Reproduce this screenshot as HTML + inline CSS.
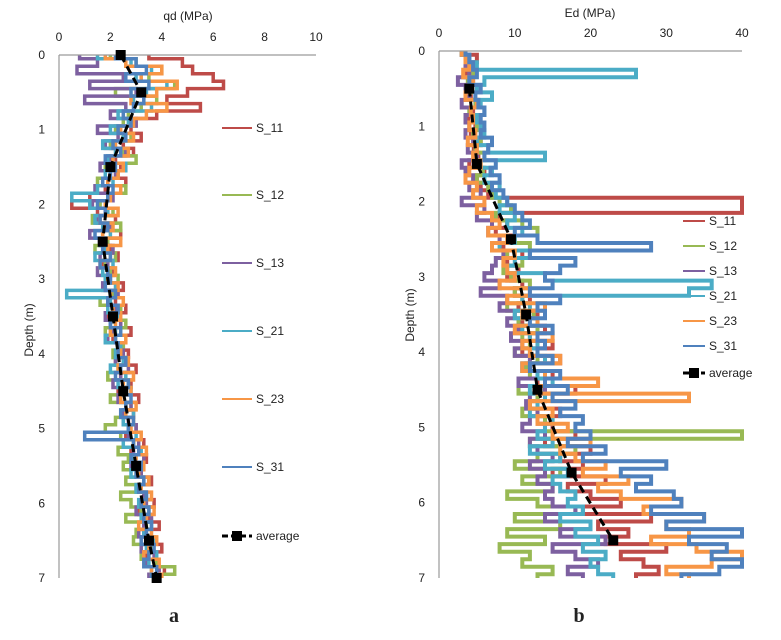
<!DOCTYPE html>
<html><head><meta charset="utf-8">
<style>
body{margin:0;background:#fff;}
svg text{font-family:"Liberation Sans",sans-serif;fill:#222;}
</style></head>
<body>
<svg id="fig" width="781" height="635" xmlns="http://www.w3.org/2000/svg"></svg>
<script>
const seriesNames = ["S_11","S_12","S_13","S_21","S_23","S_31"];
const seriesColors = ["#be4b48","#98b954","#7d60a0","#4bacc6","#f79646","#4f81bd"];
const depthStep = 0.1;
const depthTicks = [0,1,2,3,4,5,6,7];
const qdTicks = [0,2,4,6,8,10];
const edTicks = [0,10,20,30,40];

const qdS11=[3.5,4.8,5.2,6.0,6.4,5.0,4.2,5.5,3.8,3.0,2.8,3.2,2.5,2.9,2.2,2.4,2.0,2.6,1.8,1.2,0.5,1.5,2.2,1.8,2.4,1.6,2.0,2.3,1.7,2.1,1.8,2.5,2.0,2.2,2.6,1.9,2.4,2.8,2.1,2.5,2.7,2.2,3.0,2.4,2.8,2.3,3.1,2.6,2.9,2.5,3.0,2.6,3.3,2.8,3.4,2.9,3.2,3.6,3.0,3.4,3.7,3.1,3.5,3.9,3.3,3.6,4.0,3.4,3.8,4.1,3.6];
const qdS12=[2.0,3.0,4.0,3.5,4.5,2.2,3.8,3.2,2.7,2.5,2.2,2.8,2.0,2.5,3.0,1.8,2.3,1.5,2.6,1.9,1.6,2.1,1.3,2.4,1.7,1.9,1.4,2.2,1.8,2.0,2.3,1.8,2.1,1.6,2.4,2.0,2.6,1.8,2.2,2.5,2.1,2.6,2.3,1.9,2.7,2.4,2.0,2.8,2.5,2.2,1.8,2.4,2.9,2.3,2.7,2.5,3.0,2.6,3.1,2.4,2.8,3.2,2.6,3.4,3.0,2.9,3.6,3.2,3.8,4.5,4.0];
const qdS13=[0.8,1.5,0.7,2.5,1.2,3.0,1.0,2.6,2.0,3.0,1.5,2.3,1.8,2.6,2.0,1.6,2.2,1.9,1.4,2.1,1.3,1.8,1.5,2.0,1.2,1.7,2.1,1.6,1.9,1.5,2.0,1.7,2.3,1.9,2.2,1.8,2.4,2.1,1.9,2.3,2.5,2.2,2.7,2.4,2.1,2.6,2.3,2.8,2.5,2.7,3.0,2.7,3.1,2.9,3.3,2.8,3.2,3.5,3.1,3.3,3.4,3.0,3.6,3.3,3.1,3.5,3.2,3.7,3.4,3.9,3.5];
const qdS21=[1.5,2.8,3.6,3.0,4.2,3.4,2.9,3.6,2.3,2.7,2.0,2.5,1.7,2.2,1.9,2.6,1.8,2.1,1.5,0.5,1.2,1.9,1.4,1.7,2.0,1.6,1.8,1.4,2.1,1.7,1.8,2.2,0.3,2.0,1.9,2.3,2.0,2.2,1.8,2.4,2.2,2.5,2.0,2.6,2.3,2.8,2.4,2.6,2.9,2.5,2.7,3.0,2.5,3.2,2.9,3.1,2.8,3.3,3.0,3.4,3.1,3.5,3.2,3.6,3.3,3.7,3.4,3.8,3.5,3.6,3.9];
const qdS23=[1.8,2.6,4.0,3.2,4.6,3.8,2.8,4.2,3.4,2.9,2.4,2.9,2.2,2.7,2.1,2.5,2.3,1.9,2.4,2.0,1.8,2.3,1.6,2.1,1.7,2.4,1.9,2.0,1.6,2.2,1.9,2.3,2.0,2.5,2.1,2.4,2.2,2.0,2.6,2.3,2.4,2.7,2.3,2.9,2.5,2.8,2.4,3.0,2.6,2.9,2.8,3.2,2.9,3.4,3.0,3.3,3.1,3.5,3.2,3.6,3.3,3.7,3.4,3.1,3.6,3.8,3.5,3.3,3.9,3.6,4.0];
const qdS31=[2.2,3.0,3.4,2.6,3.5,2.8,3.3,2.9,2.5,2.8,2.3,2.6,2.1,2.4,1.8,2.2,2.0,1.7,2.1,1.9,1.5,1.8,1.6,1.9,1.4,1.8,1.7,2.0,1.6,1.9,2.0,1.8,2.2,1.9,2.3,2.1,2.0,2.4,2.2,2.3,2.3,2.6,2.4,2.2,2.7,2.5,2.8,2.6,2.4,2.9,2.7,1.0,2.9,3.1,2.8,3.2,3.0,3.3,3.1,3.4,3.2,3.5,3.3,3.6,3.4,3.2,3.7,3.5,3.3,3.8,3.6];
const qdAvgDepth=[0,0.5,1.5,2.5,3.5,4.5,5.5,6.5,7];
const qdAvgValue=[2.4,3.2,2.0,1.7,2.1,2.5,3.0,3.5,3.8];

const edS11=[3,5,4,3.5,4.5,3.8,4.2,5,4.5,3.9,4.8,4.2,5.5,4.6,5.2,4.0,6.0,5.0,5.5,6.5,40,40,8,9,7.5,10,8.5,11,9,10.5,9,11,10,12,10.5,13,11,14,12,15,11,16,12,15,13,18,14,12,16,13,15,18,14,20,16,19,15,22,17,20,24,19,28,21,25,22,30,24,27,29,26];
const edS12=[3,3.5,4,4.5,3.8,4.2,3.5,4.8,4,4.5,5,4.5,5.5,4.8,6,5.2,5.8,5,6.5,7,8,9.5,7.5,11,13,10,12,9,11,8.5,9.5,12,10,11,9,12.5,10.5,13,11,12,10,13,11.5,12,14,10.5,13,12,11,14,14,40,12,18,13,10,16,11,15,9,13,18,10,16,9,14,8,12,11,15,13];
const edS13=[3,4,3.5,4,2.5,3.5,4,3,4.2,3.5,4,3.5,4.5,3.8,5,3,3.5,4.5,4,5.5,3,6,5,7,6.5,8,7,8.5,7.5,7,6,8,5.5,9,8,10,9,10.5,9.5,11,10,12,11,13,10.5,14,12,11.5,13,12,11,14,12,13,15,12,14,13,15,14,15,18,14,20,16,22,15,18,21,17,19];
const edS21=[3,4,5,26,6,5,7,5.5,6,5,5.5,6,5,6.5,14,5.5,7,6,8,7.5,9,8,10,9,11,10,8,12,10,9,14,36,33,11,12,10,13,11,12,13,12,14,11,13,15,12,14,13,12,15,14,13,15,12,16,14,17,15,16,18,17,19,16,20,18,21,19,22,20,21,23];
const edS23=[3,3.5,4,3.2,4.5,4,3.5,5,4.2,4.5,4,4.8,3.8,5,4.5,5.5,4,3.5,5,4.5,6,5,7,8,6.5,9,7,10,8.5,9,10,8,12,9,14,11,13,10,15,11,12,16,11,14,21,13,33,12,15,13,17,15,20,16,18,22,19,25,21,24,32,27,35,30,33,28,34,40,36,30,33];
const edS31=[3.5,4,4.5,5,4,5.5,4.8,5.2,6,5.5,6,5.5,7,6.5,6,7.5,6.8,8,7,8.5,9,10,11,12,10,13,28,12,18,16,14,15,12,16,13,14,12,15,13,14,13,15,12,16,14,17,15,18,16,19,18,20,17,22,19,30,24,28,26,31,32,28,35,30,40,33,38,36,40,37,32];
const edAvgDepth=[0.5,1.5,2.5,3.5,4.5,5.6,6.5];
const edAvgValue=[4,5,9.5,11.5,13,17.5,23];

const NS="http://www.w3.org/2000/svg";
const svg=document.getElementById('fig');
function mk(tag,attrs,parent){const e=document.createElementNS(NS,tag);for(const k in attrs)e.setAttribute(k,attrs[k]);(parent||svg).appendChild(e);return e;}

function drawChart(c){
  const g=mk('g',{});
  
  
  const x=v=>c.x0+(v-c.xmin)/(c.xmax-c.xmin)*(c.x1-c.x0);
  const y=d=>c.y0+d/7*(c.y1-c.y0);
  c.data.forEach((arr,i)=>{
    const pts=[];
    arr.forEach((v,j)=>{
      const vx=x(Math.min(v,c.xmax)).toFixed(1);
      if(j>0) pts.push(vx+','+y((j-0.5)*depthStep).toFixed(1));
      pts.push(vx+','+y(j*depthStep).toFixed(1));
      if(j<arr.length-1) pts.push(vx+','+y((j+0.5)*depthStep).toFixed(1));
    });
    const p=mk('polyline',{points:pts.join(' '),fill:'none',stroke:seriesColors[i],'stroke-width':c.sw,'stroke-linejoin':'miter'},g);
    
    
  });
  const ax=mk('line',{x1:c.x0,y1:c.y0,x2:c.x1,y2:c.y0,stroke:'#9a9a9a','stroke-width':1.2},g);
  
  
  const ay=mk('line',{x1:c.x0,y1:c.y0,x2:c.x0,y2:c.y1,stroke:'#9a9a9a','stroke-width':1.2},g);
  
  
  const ap=c.avgD.map((d,j)=>x(c.avgV[j]).toFixed(1)+','+y(d).toFixed(1)).join(' ');
  const al=mk('polyline',{points:ap,fill:'none',stroke:'#000','stroke-width':3,'stroke-dasharray':'8,5'},g);
  
  
  c.avgD.forEach((d,j)=>{
    const m=mk('rect',{x:x(c.avgV[j])-5,y:y(d)-5,width:10,height:10,fill:'#000'},g);
    
    
  });
  c.ticks.forEach(t=>{
    const tx=mk('text',{x:x(t),y:c.tickY,'font-size':12,'text-anchor':'middle'},g);
    tx.textContent=t;
    
    
  });
  depthTicks.forEach(t=>{
    const ty=mk('text',{x:c.x0-14,y:y(t)+4,'font-size':12,'text-anchor':'end'},g);
    ty.textContent=t;
    
    
  });
  const xt=mk('text',{x:c.titleX,y:c.titleY,'font-size':12,'text-anchor':'middle'},g);
  xt.textContent=c.title;
  
  
  const yt=mk('text',{x:0,y:0,'font-size':12,'text-anchor':'middle',transform:'translate('+c.yTitleX+','+c.yTitleY+') rotate(-90)'},g);
  yt.textContent='Depth (m)';
  
  
  const names=seriesNames.concat(['average']);
  names.forEach((n,i)=>{
    const ly=c.legY[i];
    const le=mk('g',{},g);
    
    
    if(i<6){mk('line',{x1:c.legX,y1:ly,x2:c.legX+c.legW,y2:ly,stroke:seriesColors[i],'stroke-width':2},le);}
    else{mk('line',{x1:c.legX,y1:ly,x2:c.legX+c.legW,y2:ly,stroke:'#000','stroke-width':3,'stroke-dasharray':'6,3'},le);
      mk('rect',{x:c.legX+c.legW/2-5,y:ly-5,width:10,height:10,fill:'#000'},le);}
    const lt=mk('text',{x:c.legX+c.legW+4,y:ly+4,'font-size':12},le);
    lt.textContent=n;
  });
  const lab=mk('text',{x:c.labX,y:c.labY,'font-size':20,'font-weight':'bold','text-anchor':'middle',style:'font-family:"Liberation Serif",serif'},g);
  lab.textContent=c.label;
  
  
}

drawChart({name:'chart-a-qd',x0:59,x1:316,y0:55,y1:578,xmin:0,xmax:10,sw:3.5,
  data:[qdS11,qdS12,qdS13,qdS21,qdS23,qdS31],avgD:qdAvgDepth,avgV:qdAvgValue,
  ticks:qdTicks,tickY:41,title:'qd (MPa)',titleX:188,titleY:20,yTitleX:33,yTitleY:330,
  legX:222,legW:30,legY:[128,195,263,331,399,467,536],label:'a',labX:174,labY:622});
drawChart({name:'chart-b-ed',x0:439,x1:742,y0:51,y1:578,xmin:0,xmax:40,sw:4,
  data:[edS11,edS12,edS13,edS21,edS23,edS31],avgD:edAvgDepth,avgV:edAvgValue,
  ticks:edTicks,tickY:37,title:'Ed (MPa)',titleX:590,titleY:17,yTitleX:414,yTitleY:315,
  legX:683,legW:22,legY:[221,246,271,296,321,346,373],label:'b',labX:579,labY:622});
</script>
</body></html>
